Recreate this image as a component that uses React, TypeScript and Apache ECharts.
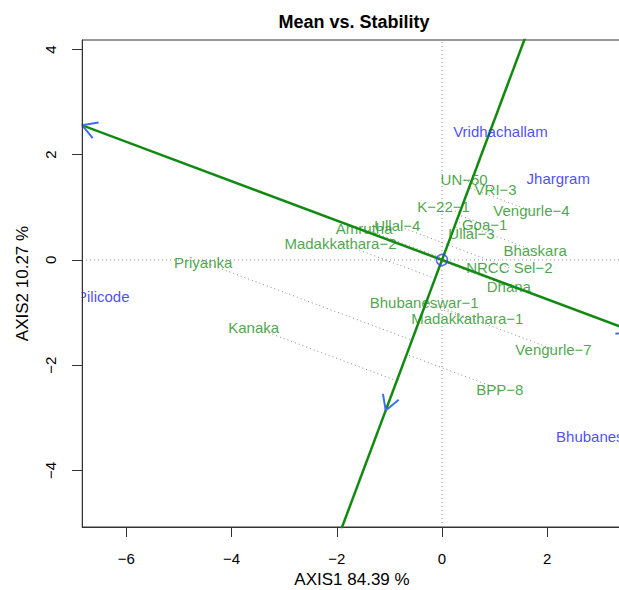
import React, { useEffect, useRef } from 'react';
import * as echarts from 'echarts';

// ---- data ----
const genotypes = ['UN-50', 'VRI-3', 'K-22-1', 'Vengurle-4', 'Goa-1', 'Ullal-3', 'Bhaskara', 'Ullal-4', 'Amrutha', 'Madakkathara-2', 'NRCC Sel-2', 'Dhana', 'Bhubaneswar-1', 'Madakkathara-1', 'Vengurle-7', 'BPP-8', 'Priyanka', 'Kanaka'];
const genX = [0.42, 1.02, 0.03, 1.70, 0.81, 0.56, 1.77, -0.85, -1.48, -1.93, 1.28, 1.27, -0.34, 0.48, 2.12, 1.10, -4.54, -3.58];
const genY = [1.52, 1.33, 1.01, 0.93, 0.67, 0.51, 0.17, 0.65, 0.59, 0.32, -0.15, -0.50, -0.80, -1.12, -1.70, -2.46, -0.04, -1.28];

const environments = ['Vridhachallam', 'Jhargram', 'Pilicode', 'Bhubaneswar'];
const envX = [1.11, 2.21, -6.44, 3.04];
const envY = [2.45, 1.54, -0.70, -3.35];

// average environment coordinate (arrow tip of the mean axis)
const aec = [-1.07, -2.86];

const xRange = [-6.844, 3.612];
const yRange = [-5.076, 4.18];
const xTicks = [-6, -4, -2, 0, 2];
const yTicks = [-4, -2, 0, 2, 4];

const FONT = '"Liberation Sans", Arial, Helvetica, sans-serif';
const GREEN_TEXT = '#1a8f1a';
const GREEN_LINE = '#128a12';
const BLUE_TEXT = '#1a1aff';
const ARROW = '#3d6fe6';
const GRAY = '#8a8a8a';

const fmt = (s: string) => s.replace(/-/g, '\u2212');

function seg(data: number[][], color: string, width: number, type: any, z = 2) {
  return {
    type: 'line',
    data,
    showSymbol: false,
    symbol: 'none',
    silent: true,
    clip: true,
    z,
    lineStyle: { color, width, type },
  };
}

export default function App() {
  const ref = useRef<HTMLDivElement>(null);
  useEffect(() => {
    const chart = echarts.init(ref.current!, null, { renderer: 'svg' });

    const len = Math.hypot(aec[0], aec[1]);
    const u = [aec[0] / len, aec[1] / len]; // mean axis direction
    const v = [-u[1], u[0]]; // stability axis direction
    const sSlope = v[1] / v[0];

    const series: any[] = [];
    // reference dotted lines through origin
    series.push(seg([[0, yRange[0]], [0, yRange[1]]], GRAY, 1, [1, 3], 1));
    series.push(seg([[xRange[0], 0], [xRange[1], 0]], GRAY, 1, [1, 3], 1));
    // projections of genotypes onto mean axis
    genX.forEach((gx, i) => {
      const gy = genY[i];
      const d = gx * u[0] + gy * u[1];
      series.push(seg([[gx, gy], [d * u[0], d * u[1]]], GRAY, 1, [1, 3], 1));
    });
    // the two axes
    series.push(seg([[-30 * u[0], -30 * u[1]], [30 * u[0], 30 * u[1]]], GREEN_LINE, 2.5, 'solid', 3));
    series.push(seg([[-30 * v[0], -30 * v[1]], [30 * v[0], 30 * v[1]]], GREEN_LINE, 2.5, 'solid', 3));
    // arrow heads
    const tips = [
      [xRange[0], sSlope * xRange[0]],
      [xRange[1], sSlope * xRange[1]],
      [aec[0], aec[1]],
    ];
    const L = 0.32;
    const ang = Math.PI / 6;
    tips.forEach((t) => {
      const tl = Math.hypot(t[0], t[1]);
      const b = [-t[0] / tl, -t[1] / tl];
      const r1 = [b[0] * Math.cos(ang) - b[1] * Math.sin(ang), b[0] * Math.sin(ang) + b[1] * Math.cos(ang)];
      const r2 = [b[0] * Math.cos(-ang) - b[1] * Math.sin(-ang), b[0] * Math.sin(-ang) + b[1] * Math.cos(-ang)];
      series.push(seg([[t[0] + r1[0] * L, t[1] + r1[1] * L], t, [t[0] + r2[0] * L, t[1] + r2[1] * L]], ARROW, 2, 'solid', 4));
    });
    // origin circle
    series.push({
      type: 'scatter',
      data: [[0, 0]],
      symbol: 'circle',
      symbolSize: 11,
      silent: true,
      z: 5,
      itemStyle: { color: 'rgba(0,0,0,0)', borderColor: '#3344ee', borderWidth: 1.5 },
    });
    const labelSeries = (names: string[], xs: number[], ys: number[], color: string) => ({
      type: 'scatter',
      data: names.map((n, i) => ({ name: fmt(n), value: [xs[i], ys[i]] })),
      symbolSize: 1,
      silent: true,
      clip: false,
      z: 6,
      itemStyle: { color: 'rgba(0,0,0,0)' },
      label: {
        show: true,
        position: 'inside',
        formatter: '{b}',
        color,
        fontSize: 15,
        fontFamily: FONT,
      },
    });
    series.push(labelSeries(genotypes, genX, genY, GREEN_TEXT));
    series.push(labelSeries(environments, envX, envY, BLUE_TEXT));

    const option: any = {
      animation: false,
      backgroundColor: '#fff',
      title: {
        text: 'Mean vs. Stability',
        left: 349,
        top: 8,
        textAlign: 'center',
        textStyle: { fontSize: 18, fontWeight: 'bold', color: '#000', fontFamily: FONT },
      },
      grid: {
        left: 82,
        top: 40,
        width: 550,
        height: 487,
        show: true,
        borderColor: '#333',
        borderWidth: 1,
        backgroundColor: 'rgba(0,0,0,0)',
        containLabel: false,
        outerBoundsMode: 'none',
      },
      xAxis: {
        type: 'value',
        min: xRange[0],
        max: xRange[1],
        axisLine: { show: true, onZero: false, lineStyle: { color: '#333', width: 1 } },
        axisTick: { show: true, length: 10, customValues: xTicks, lineStyle: { color: '#333' } },
        axisLabel: {
          customValues: xTicks,
          formatter: (val: number) => fmt(String(val)),
          margin: 24,
          fontSize: 15,
          color: '#000',
          fontFamily: FONT,
        },
        splitLine: { show: false },
        name: 'AXIS1 84.39 %',
        nameLocation: 'middle',
        nameGap: 41,
        nameTextStyle: { fontSize: 17, color: '#000', fontFamily: FONT, padding: [0, 10, 0, 0] },
      },
      yAxis: {
        type: 'value',
        min: yRange[0],
        max: yRange[1],
        z: 60,
        axisLine: { show: true, onZero: false, lineStyle: { color: '#333', width: 1 } },
        axisTick: { show: true, length: 10, customValues: yTicks, lineStyle: { color: '#333' } },
        axisLabel: {
          customValues: yTicks,
          formatter: (val: number) => fmt(String(val)),
          rotate: 90,
          margin: 24,
          fontSize: 15,
          color: '#000',
          fontFamily: FONT,
        },
        splitLine: { show: false },
        name: 'AXIS2 10.27 %',
        nameLocation: 'middle',
        nameGap: 51,
        nameTextStyle: { fontSize: 17, color: '#000', fontFamily: FONT },
      },
      graphic: [
        {
          type: 'rect',
          z: 50,
          silent: true,
          shape: { x: 0, y: 39, width: 81.5, height: 489 },
          style: { fill: '#fff' },
        },
      ],
      series,
    };
    chart.setOption(option);
    return () => chart.dispose();
  }, []);
  return (
    <div
      ref={ref}
      style={{ position: 'fixed', left: 0, top: 0, width: 619, height: 590, background: '#fff' }}
    />
  );
}
